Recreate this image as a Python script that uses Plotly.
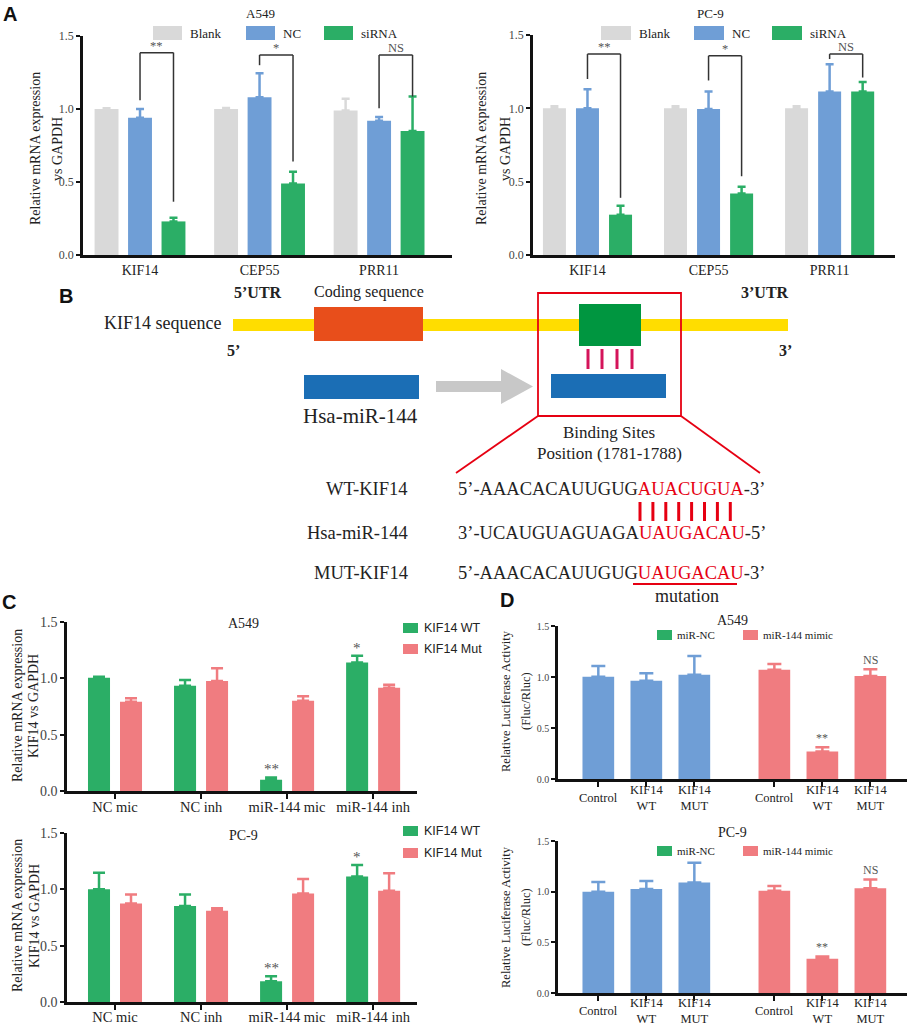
import plotly.graph_objects as go

W, H = 913, 1026
def X(px): return px / W
def Y(py): return 1 - py / H

SERIF = "Liberation Serif"
SANS = "Liberation Sans"
TXT = "#222222"
GREY = "#D9D9D9"
BLUE = "#6F9ED6"
GREEN = "#2BAE66"
PINK = "#F07C80"
RED = "#E60012"

# ---------------- Panel A data ----------------
genes = ["KIF14", "CEP55", "PRR11"]
a_series = ["Blank", "NC", "siRNA"]
a_colors = [GREY, BLUE, GREEN]
a549_blank = [1.00, 1.00, 0.99]
a549_blank_err = [0.005, 0.006, 0.08]
a549_nc = [0.94, 1.08, 0.92]
a549_nc_err = [0.06, 0.165, 0.025]
a549_si = [0.23, 0.49, 0.85]
a549_si_err = [0.025, 0.08, 0.235]
pc9_blank = [1.00, 1.00, 1.00]
pc9_blank_err = [0.015, 0.015, 0.015]
pc9_nc = [1.00, 0.995, 1.115]
pc9_nc_err = [0.13, 0.12, 0.185]
pc9_si = [0.275, 0.42, 1.115]
pc9_si_err = [0.06, 0.045, 0.065]
a_sig = ["**", "*", "NS"]
a549_br_start = [1.06, 1.30, 1.005]
a549_br_top = [1.386, 1.37, 1.37]
a549_br_end = [0.365, 0.64, 1.085]
pc9_br_start = [1.20, 1.19, 1.336]
pc9_br_top = [1.37, 1.358, 1.37]
pc9_br_end = [0.39, 0.537, 1.21]

# ---------------- Panel C data ----------------
c_cats = ["NC mic", "NC inh", "miR-144 mic", "miR-144 inh"]
c_series = ["KIF14 WT", "KIF14 Mut"]
c_colors = [GREEN, PINK]
c_a549_wt = [1.005, 0.935, 0.10, 1.14]
c_a549_wt_err = [0.01, 0.05, 0.02, 0.06]
c_a549_mut = [0.793, 0.976, 0.80, 0.917]
c_a549_mut_err = [0.03, 0.113, 0.04, 0.027]
c_pc9_wt = [1.0, 0.852, 0.184, 1.113]
c_pc9_wt_err = [0.148, 0.103, 0.044, 0.104]
c_pc9_mut = [0.875, 0.81, 0.964, 0.988]
c_pc9_mut_err = [0.08, 0.021, 0.128, 0.154]
c_sig = ["", "", "**", "*"]

# ---------------- Panel D data ----------------
d_cats = ["Control", "KIF14<br>WT", "KIF14<br>MUT"]
d_series = ["miR-NC", "miR-144 mimic"]
d_bar_colors = [BLUE, PINK]
d_legend_colors = [GREEN, PINK]
d_a549_nc = [1.003, 0.964, 1.023]
d_a549_nc_err = [0.104, 0.072, 0.182]
d_a549_mimic = [1.071, 0.269, 1.01]
d_a549_mimic_err = [0.056, 0.043, 0.065]
d_pc9_nc = [1.0, 1.026, 1.09]
d_pc9_nc_err = [0.095, 0.079, 0.195]
d_pc9_mimic = [1.01, 0.338, 1.033]
d_pc9_mimic_err = [0.046, 0.023, 0.088]
d_sig = ["", "**", "NS"]

fig = go.Figure()

def ax_names(i):
    return ("x" if i == 1 else f"x{i}", "y" if i == 1 else f"y{i}")

def add_bar(i, xs, ys, errs, color, errcolor, center, width, name, errw=5):
    xa, ya = ax_names(i)
    fig.add_trace(go.Bar(
        x=xs, y=ys, name=name, width=width, offset=center - width / 2,
        marker=dict(color=color, line=dict(width=0)),
        error_y=dict(type="data", array=errs, arrayminus=[0] * len(errs),
                     symmetric=False, color=errcolor, thickness=2.5, width=errw),
        xaxis=xa, yaxis=ya, showlegend=False))

def text(x, y, s, size, family=SERIF, color=TXT, xanchor="center",
         yanchor="middle", angle=0):
    fig.add_annotation(x=X(x), y=Y(y), xref="paper", yref="paper", text=s,
                       showarrow=False, textangle=angle,
                       font=dict(family=family, size=size, color=color),
                       xanchor=xanchor, yanchor=yanchor)

def rect(x0, y0, x1, y1, color, line=None, lw=0):
    fig.add_shape(type="rect", xref="paper", yref="paper",
                  x0=X(x0), x1=X(x1), y0=Y(y1), y1=Y(y0),
                  fillcolor=color if color else "rgba(0,0,0,0)",
                  line=dict(width=lw, color=line or "rgba(0,0,0,0)"), layer="above")

def pline(x0, y0, x1, y1, color, w):
    fig.add_shape(type="line", xref="paper", yref="paper",
                  x0=X(x0), x1=X(x1), y0=Y(y0), y1=Y(y1),
                  line=dict(color=color, width=w))

def legend(names, colors, starts, y, bw, bh, family, size, gap):
    for n, c, s in zip(names, colors, starts):
        rect(s, y - bh / 2, s + bw, y + bh / 2, c)
        text(s + bw + gap, y, n, size, family=family, xanchor="left")

# ---------------- Panel A ----------------
A_SLOT = {1: 0.28, 2: 0.273}
A_W = {1: 0.2, 2: 0.19}
for i, (bl, ble, nc, nce, si, sie, bs, bt, be) in {
    1: (a549_blank, a549_blank_err, a549_nc, a549_nc_err, a549_si, a549_si_err,
        a549_br_start, a549_br_top, a549_br_end),
    2: (pc9_blank, pc9_blank_err, pc9_nc, pc9_nc_err, pc9_si, pc9_si_err,
        pc9_br_start, pc9_br_top, pc9_br_end)}.items():
    s, w = A_SLOT[i], A_W[i]
    add_bar(i, genes, bl, ble, GREY, GREY, -s, w, "Blank", 4)
    add_bar(i, genes, nc, nce, BLUE, BLUE, 0, w, "NC", 4)
    add_bar(i, genes, si, sie, GREEN, GREEN, s, w, "siRNA", 4)
    xa, ya = ax_names(i)
    for k in range(len(genes)):
        for (x0, y0, x1, y1) in [(k, bs[k], k, bt[k]), (k, bt[k], k + s, bt[k]),
                                 (k + s, bt[k], k + s, be[k])]:
            fig.add_shape(type="line", xref=xa, yref=ya, x0=x0, x1=x1, y0=y0, y1=y1,
                          line=dict(color="#333333", width=1.5))
        fig.add_annotation(x=k + s / 2, y=bt[k], xref=xa, yref=ya, text=a_sig[k],
                           showarrow=False, yanchor="bottom", yshift=-2,
                           font=dict(family=SERIF, size=12.5, color="#555555"))

text(260, 13, "A549", 13)
text(710, 13, "PC-9", 13)
legend(a_series, a_colors, [153, 246, 324], 33, 29, 14, SERIF, 13, 6)
legend(a_series, a_colors, [601, 694, 772], 33, 30, 14, SERIF, 13, 6)
text(35, 149, "Relative mRNA expression", 14, angle=-90)
text(57, 149, "vs GAPDH", 14, angle=-90)
text(481, 149, "Relative mRNA expression", 14, angle=-90)
text(505, 149, "vs GAPDH", 14, angle=-90)

# ---------------- Panel C ----------------
C_SLOT, C_W = 0.186, 0.256
for i, (wt, wte, mu, mue) in {3: (c_a549_wt, c_a549_wt_err, c_a549_mut, c_a549_mut_err),
                              4: (c_pc9_wt, c_pc9_wt_err, c_pc9_mut, c_pc9_mut_err)}.items():
    add_bar(i, c_cats, wt, wte, GREEN, GREEN, -C_SLOT, C_W, c_series[0], 6)
    add_bar(i, c_cats, mu, mue, PINK, PINK, C_SLOT, C_W, c_series[1], 6)
    xa, ya = ax_names(i)
    for k, sg in enumerate(c_sig):
        if sg:
            fig.add_annotation(x=k - C_SLOT, y=wt[k] + wte[k], xref=xa, yref=ya, text=sg,
                               showarrow=False, yanchor="bottom", yshift=-2,
                               font=dict(family=SERIF, size=15, color="#555555"))

text(243, 623, "A549", 14)
text(243, 835, "PC-9", 14)
legend(c_series[:1], c_colors[:1], [403], 628, 15, 10, SANS, 12.5, 4)
legend(c_series[1:], c_colors[1:], [403], 649, 15, 10, SANS, 12.5, 4)
legend(c_series[:1], c_colors[:1], [403], 831, 15, 10, SANS, 12.5, 4)
legend(c_series[1:], c_colors[1:], [403], 853, 15, 10, SANS, 12.5, 4)
text(17, 706, "Relative mRNA expression", 14, angle=-90)
text(33, 706, "KIF14 vs GAPDH", 14, angle=-90)
text(17, 916, "Relative mRNA expression", 14, angle=-90)
text(34, 916, "KIF14 vs GAPDH", 14, angle=-90)

# ---------------- Panel D ----------------
D_GROUP_GAP = 0.667
D_W = 0.66
d_pos = [[k + g * (len(d_cats) + D_GROUP_GAP) for k in range(len(d_cats))]
         for g in range(len(d_series))]
d_label_y = {5: 798, 6: 1011}
for i, (nc, nce, mm, mme) in {5: (d_a549_nc, d_a549_nc_err, d_a549_mimic, d_a549_mimic_err),
                              6: (d_pc9_nc, d_pc9_nc_err, d_pc9_mimic, d_pc9_mimic_err)}.items():
    add_bar(i, d_pos[0], nc, nce, BLUE, BLUE, 0, D_W, d_series[0], 7)
    add_bar(i, d_pos[1], mm, mme, PINK, PINK, 0, D_W, d_series[1], 7)
    xa, ya = ax_names(i)
    for k, sg in enumerate(d_sig):
        if sg:
            fig.add_annotation(x=d_pos[1][k], y=mm[k] + mme[k], xref=xa, yref=ya, text=sg,
                               showarrow=False, yanchor="bottom", yshift=0,
                               font=dict(family=SERIF, size=12, color="#555555"))
    for g in range(len(d_series)):
        for k, lab in enumerate(d_cats):
            fig.add_annotation(x=d_pos[g][k], y=Y(d_label_y[i]), xref=xa, yref="paper",
                               text=lab, showarrow=False, yanchor="middle",
                               font=dict(family=SERIF, size=12.5, color=TXT))

text(732, 620, "A549", 14)
text(732, 832, "PC-9", 14)
legend(d_series, d_legend_colors, [657, 743], 635, 15, 10, SERIF, 11, 3)
legend(d_series, d_legend_colors, [657, 743], 851, 15, 10, SERIF, 11, 3)
text(506, 701, "Relative Luciferase Activity", 12.5, angle=-90)
text(526, 701, "(Fluc/Rluc)", 12.5, angle=-90)
text(506, 917, "Relative Luciferase Activity", 12.5, angle=-90)
text(526, 917, "(Fluc/Rluc)", 12.5, angle=-90)

# ---------------- Axes ----------------
boxes = {
    1: ((83, 452), (36, 255)),
    2: ((533, 895), (35, 255)),
    3: ((67, 417), (622, 791)),
    4: ((67, 417), (833, 1002)),
    5: ((558, 907), (626, 779)),
    6: ((558, 907), (841, 993)),
}
xranges = {1: [-0.477, 2.61], 2: [-0.45, 2.54], 3: [-0.558, 3.51], 4: [-0.558, 3.51],
           5: [-0.84, 6.43], 6: [-0.84, 6.43]}
xfont = {1: 14, 2: 14, 3: 14.5, 4: 14.5, 5: 12.5, 6: 12.5}
yfont = {1: 12, 2: 12, 3: 14, 4: 14, 5: 10, 6: 10}
xstand = {1: 0, 2: 0, 3: -4, 4: -5, 5: 0, 6: 0}
lay = {}
for i, ((x0, x1), (y0, y1)) in boxes.items():
    xk = "xaxis" if i == 1 else f"xaxis{i}"
    yk = "yaxis" if i == 1 else f"yaxis{i}"
    xa, ya = ax_names(i)
    xd = dict(domain=[X(x0), X(x1)], anchor=ya, range=xranges[i], showline=True,
              linecolor="#111111", linewidth=2.5, showgrid=False, zeroline=False,
              automargin=False, ticklabelstandoff=xstand[i],
              tickfont=dict(family=SERIF, size=xfont[i], color=TXT),
              ticks="outside" if i >= 3 else "", ticklen=5, tickwidth=2, tickcolor="#111111")
    if i >= 5:
        xd.update(tickmode="array", tickvals=d_pos[0] + d_pos[1], showticklabels=False)
    else:
        xd.update(type="category")
    lay[xk] = xd
    lay[yk] = dict(domain=[Y(y1), Y(y0)], anchor=xa, range=[0, 1.5], showline=True,
                   linecolor="#111111", linewidth=2.5, showgrid=False, zeroline=False,
                   automargin=False,
                   tickmode="array", tickvals=[0, 0.5, 1.0, 1.5], tickformat=".1f",
                   ticks="outside", ticklen=4, tickwidth=2, tickcolor="#111111",
                   tickfont=dict(family=SERIF, size=yfont[i], color="#444444"))
fig.update_layout(**lay)

# ---------------- Panel B diagram ----------------
rect(233, 319, 788, 331, "#FFDD00")
rect(314, 307, 423, 341, "#E84E1B")
rect(579, 304, 641, 346, "#009640")
rect(551, 374, 666, 398, "#1B6EB5")
rect(304, 375, 419, 399, "#1B6EB5")
for xx in (588, 602, 617, 632):
    pline(xx, 349, xx, 369, "#D4145A", 3)
fig.add_shape(type="path", xref="paper", yref="paper",
              path=(f"M {X(436)} {Y(381)} L {X(501)} {Y(381)} L {X(501)} {Y(369)} "
                    f"L {X(533)} {Y(386.5)} L {X(501)} {Y(404)} L {X(501)} {Y(392)} "
                    f"L {X(436)} {Y(392)} Z"),
              fillcolor="#C8C8C8", line=dict(width=0))
rect(538, 293, 681, 416, None, line=RED, lw=1.8)
pline(538, 416, 456, 473, RED, 1.8)
pline(681, 416, 760, 473, RED, 1.8)
text(258, 292, "<b>5’UTR</b>", 16)
text(369, 292, "Coding sequence", 16)
text(765, 292, "<b>3’UTR</b>", 16)
text(223, 323, "KIF14 sequence", 18, xanchor="right")
text(233, 351, "<b>5’</b>", 16)
text(785, 351, "<b>3’</b>", 16)
text(360, 416, "Hsa-miR-144", 21)
text(609, 432, "Binding Sites", 17)
text(609, 454, "Position (1781-1788)", 17)

seq_labels = ["WT-KIF14", "Hsa-miR-144", "MUT-KIF14"]
seq_left = ["5’-AAACACAUUGUG", "3’-UCAUGUAGUAGA", "5’-AAACACAUUGUG"]
seq_site = ["AUACUGUA", "UAUGACAU", "UAUGACAU"]
seq_right = ["-3’", "-5’", "-3’"]
seq_y = [489, 533, 573]
for lab, l, s, r, yy in zip(seq_labels, seq_left, seq_site, seq_right, seq_y):
    text(410, yy, lab, 18.5, xanchor="right")
    text(456, yy, f"{l}<span style='color:{RED}'>{s}</span>{r}", 18.5, xanchor="left")
for k in range(8):
    xx = 640 + k * 12.9
    pline(xx, 502, xx, 521, RED, 3)
pline(633, 584, 737, 584, RED, 1.8)
text(687, 596, "mutation", 18)

# panel letters
text(10, 14, "<b>A</b>", 20, family=SANS, color="#111111")
text(66, 296, "<b>B</b>", 20, family=SANS, color="#111111")
text(9, 602, "<b>C</b>", 20, family=SANS, color="#111111")
text(507, 600, "<b>D</b>", 20, family=SANS, color="#111111")

fig.update_layout(template="none", width=W, height=H, autosize=False, barmode="overlay",
                  margin=dict(l=0, r=0, t=0, b=0, pad=0), plot_bgcolor="white",
                  paper_bgcolor="white", showlegend=False)
fig.write_html("out.html", config={"displayModeBar": False},
               post_script="document.body.style.margin='0px';document.body.style.overflow='hidden';")
